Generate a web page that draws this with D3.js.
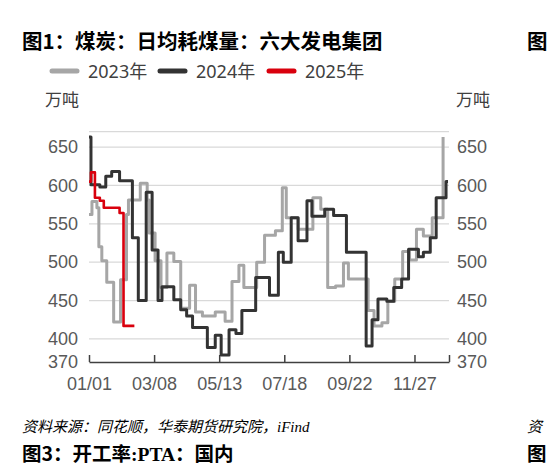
<!DOCTYPE html>
<html lang="zh">
<head>
<meta charset="utf-8">
<title>日均耗煤量：六大发电集团</title>
<script src="https://cdn.jsdelivr.net/npm/d3@7"></script>
<style>
  body { margin: 0; background: #fff; }
  svg { display: block; font-family: "Noto Sans", "Noto Sans CJK SC", sans-serif; }
  .tick text { fill: #595959; font-size: 18px; }
</style>
</head>
<body>
<script>
// 旬度数据，按日期(月-日)记录每段阶梯的起点
var dates2023 = ["01-01","01-04","01-09","01-11","01-14","01-19","01-26","02-02","02-08","02-10",
  "02-22","03-01","03-03","03-09","03-15","03-21","03-28","04-04","04-13","04-19",
  "04-26","05-09","05-19","05-26","06-02","06-07","06-20","06-28","07-09","07-16",
  "07-20","08-01","08-16","08-24","08-31","09-08","09-16","09-21","10-11","10-17",
  "10-25","10-31","11-07","11-15","11-22","11-29","12-06","12-15","12-26"];
var values2023 = [562,579,571,520,502,474,422,477,562,581,
  603,581,538,502,467,512,501,440,470,435,
  430,435,423,475,496,467,500,535,541,597,
  558,543,584,569,467,469,499,478,437,417,
  421,449,478,514,503,543,534,558,663];

var dates2024 = ["01-01","01-03","01-12","01-18","01-24","02-01","02-14","02-20","02-28","03-06",
  "03-12","03-16","03-28","04-04","04-10","04-16","05-01","05-09","05-15","05-23",
  "05-30","06-05","06-19","07-03","07-12","07-17","07-25","08-01","08-10","08-15",
  "08-28","09-06","09-19","10-09","10-15","10-21","10-30","11-06","11-14","11-21",
  "12-01","12-06","12-13","12-19","12-29","12-31"];
var values2024 = [663,601,598,612,618,606,532,450,591,516,
  450,468,451,438,430,415,389,405,379,412,
  407,437,480,457,513,500,558,528,580,560,
  569,561,513,391,425,452,449,467,478,517,
  507,513,532,584,605,605];

var dates2025 = ["01-01","01-03","01-07","01-12","01-16","02-01","02-05","02-16"];
var values2025 = [605,617,584,580,571,564,417,417];

var seriesNames = ["2023年", "2024年", "2025年"];
var seriesColors = ["#a6a6a6", "#333333", "#d9000d"];
var xTickLabels = ["01/01","03/08","05/13","07/18","09/22","11/27"];
var yTickValues = [370,400,450,500,550,600,650];
var gridValues = [400,450,500,550,600,650,670];

var w = 547, h = 468;
var plotLeft = 89, plotRight = 449, plotTop = 131.7, plotBottom = 362;

function toDate(md) {
  var p = md.split(/[-\/]/);
  return new Date(2023, +p[0] - 1, +p[1]);
}

var xScale = d3.scaleTime()
  .domain([new Date(2023, 0, 1), new Date(2024, 0, 1)])
  .range([plotLeft, plotRight]);
var yScale = d3.scaleLinear()
  .domain([370, 670])
  .range([plotBottom, plotTop]);

var svg = d3.select("body").append("svg")
  .attr("width", w).attr("height", h);

// 标题
svg.append("text")
  .attr("x", 22).attr("y", 49)
  .style("font-family", "'Noto Sans CJK SC', sans-serif")
  .style("font-size", "20.5px").style("font-weight", "bold")
  .text("图1：煤炭：日均耗煤量：六大发电集团");
svg.append("text")
  .attr("x", 527).attr("y", 49)
  .style("font-family", "'Noto Sans CJK SC', sans-serif")
  .style("font-size", "20.5px").style("font-weight", "bold")
  .text("图");

// 图例
var legendX = [50, 158, 267];
var legend = svg.append("g").selectAll("g")
  .data(seriesNames)
  .enter().append("g")
  .attr("transform", function(d, i) { return "translate(" + legendX[i] + ",71)"; });
legend.append("line")
  .attr("x1", 2).attr("x2", 27)
  .attr("stroke", function(d, i) { return seriesColors[i]; })
  .attr("stroke-width", 5)
  .attr("stroke-linecap", "round");
legend.append("text")
  .attr("x", 38).attr("y", 6.5)
  .style("font-size", "18px").style("fill", "#404040")
  .text(function(d) { return d; });

// 单位
svg.append("text").attr("x", 45).attr("y", 106)
  .style("font-size", "17px").style("fill", "#404040").text("万吨");
svg.append("text").attr("x", 456).attr("y", 106)
  .style("font-size", "17px").style("fill", "#404040").text("万吨");

// 网格线
svg.append("g").selectAll("line")
  .data(gridValues)
  .enter().append("line")
  .attr("x1", plotLeft).attr("x2", plotRight)
  .attr("y1", function(d) { return yScale(d); })
  .attr("y2", function(d) { return yScale(d); })
  .attr("stroke", "#d9d9d9")
  .attr("stroke-width", 1.3);

// 坐标轴
var yLeft = d3.axisLeft(yScale).tickValues(yTickValues).tickSize(0).tickPadding(11);
svg.append("g").attr("transform", "translate(" + plotLeft + ",0)").call(yLeft)
  .call(function(g) { g.select(".domain").remove(); });

var yRight = d3.axisRight(yScale).tickValues(yTickValues).tickSize(0).tickPadding(8);
svg.append("g").attr("transform", "translate(" + plotRight + ",0)").call(yRight)
  .call(function(g) { g.select(".domain").remove(); });

var xTickDates = xTickLabels.map(toDate);
var endDate = xScale.domain()[1];
var xAxis = d3.axisBottom(xScale)
  .tickValues(xTickDates.concat([endDate]))
  .tickSizeInner(-7).tickSizeOuter(0).tickPadding(15)
  .tickFormat(function(d, i) { return i < xTickLabels.length ? xTickLabels[i] : ""; });
var xg = svg.append("g").attr("transform", "translate(0," + plotBottom + ")").call(xAxis);
xg.select(".domain").attr("stroke", "#404040").attr("stroke-width", 1.5);
xg.selectAll(".tick line").attr("stroke", "#404040").attr("stroke-width", 1.5);

// 折线（阶梯）
var line = d3.line()
  .x(function(d) { return xScale(d[0]); })
  .y(function(d) { return yScale(d[1]); })
  .curve(d3.curveStepAfter);

var allSeries = [
  d3.zip(dates2023.map(toDate), values2023),
  d3.zip(dates2024.map(toDate), values2024),
  d3.zip(dates2025.map(toDate), values2025)
];
var widths = [3, 3, 2.6];

svg.append("g").selectAll("path")
  .data(allSeries)
  .enter().append("path")
  .attr("d", line)
  .attr("fill", "none")
  .attr("stroke", function(d, i) { return seriesColors[i]; })
  .attr("stroke-width", function(d, i) { return widths[i]; })
  .attr("stroke-linejoin", "round");

// 资料来源
var src = svg.append("text").attr("x", 22).attr("y", 432)
  .style("font-family", "'Noto Sans CJK SC', sans-serif")
  .style("font-size", "15px").style("font-style", "italic").style("fill", "#000");
src.append("tspan").text("资料来源：同花顺，华泰期货研究院，");
src.append("tspan").style("font-family", "'Liberation Serif', serif").text("iFind");
svg.append("text").attr("x", 527).attr("y", 432)
  .style("font-family", "'Noto Sans CJK SC', sans-serif")
  .style("font-size", "15px").style("font-style", "italic").text("资");

// 下一张图的标题
var t3 = svg.append("text").attr("x", 22).attr("y", 461)
  .style("font-family", "'Noto Sans CJK SC', sans-serif")
  .style("font-size", "19.5px").style("font-weight", "bold");
t3.append("tspan").text("图3：开工率");
t3.append("tspan").style("font-family", "'Liberation Serif', serif").text(":PTA");
t3.append("tspan").text("：国内");
svg.append("text").attr("x", 527).attr("y", 461)
  .style("font-family", "'Noto Sans CJK SC', sans-serif")
  .style("font-size", "19.5px").style("font-weight", "bold").text("图");
</script>
</body>
</html>
